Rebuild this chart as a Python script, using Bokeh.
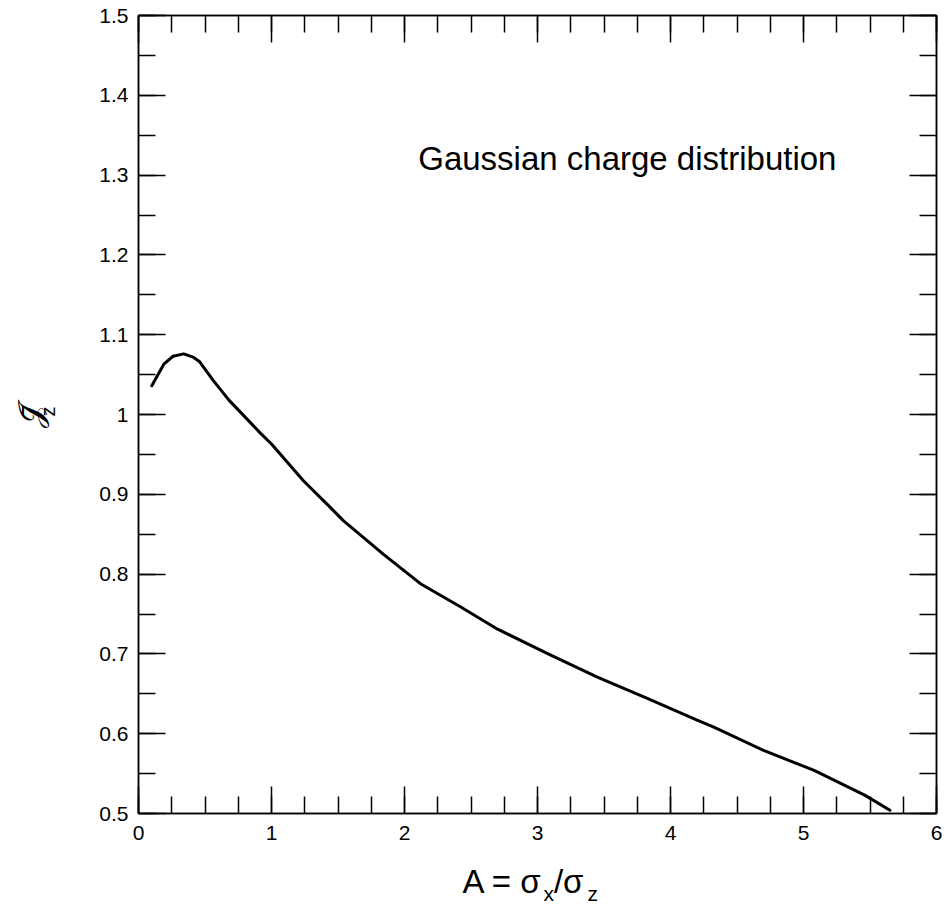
import math
from bokeh.plotting import figure
from bokeh.models import Range1d, FixedTicker, LinearAxis, Label, CustomJSTickFormatter
from bokeh.embed import file_html
from bokeh.resources import INLINE

# ---- data ----
a_vals = [0.10, 0.19, 0.26, 0.34, 0.41, 0.46, 0.56, 0.68, 0.92, 1.00, 1.24, 1.44, 1.54,
          1.84, 2.12, 2.42, 2.70, 3.08, 3.45, 3.83, 4.20, 4.33, 4.70, 5.08, 5.46, 5.65]
j_vals = [1.036, 1.063, 1.073, 1.076, 1.072, 1.066, 1.043, 1.018, 0.976, 0.963, 0.917, 0.884, 0.867,
          0.825, 0.788, 0.759, 0.731, 0.700, 0.671, 0.644, 0.617, 0.608, 0.579, 0.554, 0.523, 0.504]

x_major = [0, 1, 2, 3, 4, 5, 6]
x_minor = [i * 0.25 for i in range(25)]
y_major = [0.5, 0.6, 0.7, 0.8, 0.9, 1.0, 1.1, 1.2, 1.3, 1.4, 1.5]
y_minor = [round(0.5 + 0.05 * i, 2) for i in range(21)]

annotation = "Gaussian  charge  distribution"
x_label_main = "A = \u03c3\u2009\u2009/\u03c3"
x_label_subs = ["x", "z"]
y_label_main = "\U0001D4A5\u0304"
y_label_sub = "z"

FONT = "Liberation Sans"

# frame geometry in page pixels
F_LEFT, F_RIGHT, F_TOP, F_BOTTOM = 138, 936, 15, 813
W, H = 945, 905


def px2x(px):
    return (px - F_LEFT) / (F_RIGHT - F_LEFT) * 6


def py2y(py):
    return 0.5 + (F_BOTTOM - py) / (F_BOTTOM - F_TOP)


p = figure(width=W, height=H, x_range=Range1d(0, 6), y_range=Range1d(0.5, 1.5),
           output_backend="svg", toolbar_location=None,
           x_axis_location=None, y_axis_location=None,
           min_border_left=F_LEFT, min_border_right=W - F_RIGHT,
           min_border_top=F_TOP, min_border_bottom=H - F_BOTTOM)
p.grid.visible = False
p.outline_line_color = "black"
p.outline_line_width = 1.5
p.background_fill_color = "white"
p.border_fill_color = "white"

fmt = CustomJSTickFormatter(code="return String(Math.round(tick*10)/10);")
blank_fmt = CustomJSTickFormatter(code="return '';")


def make_axis(kind, labels):
    ax = LinearAxis()
    if kind == "x":
        ax.ticker = FixedTicker(ticks=x_major, minor_ticks=x_minor)
    else:
        ax.ticker = FixedTicker(ticks=y_major, minor_ticks=y_minor)
    ax.major_tick_in = 27
    ax.major_tick_out = 0
    ax.minor_tick_in = 17
    ax.minor_tick_out = 0
    ax.major_tick_line_width = 1.5
    ax.minor_tick_line_width = 1.5
    ax.major_tick_line_color = "black"
    ax.minor_tick_line_color = "black"
    ax.axis_line_color = "black"
    ax.axis_line_width = 1.5
    if labels:
        ax.formatter = fmt
        ax.major_label_text_font = FONT
        ax.major_label_text_font_size = "21px"
        ax.major_label_text_color = "black"
        ax.major_label_standoff = 12 if kind == "x" else 10
    else:
        ax.formatter = blank_fmt
        ax.major_label_text_font_size = "1px"
        ax.major_label_text_color = None
        ax.major_label_standoff = 0
    return ax


p.add_layout(make_axis("x", True), "below")
p.add_layout(make_axis("x", False), "above")
p.add_layout(make_axis("y", True), "left")
p.add_layout(make_axis("y", False), "right")

p.line(a_vals, j_vals, line_color="black", line_width=3, line_join="round", line_cap="round")

# annotation text
p.add_layout(Label(x=px2x(636), y=py2y(158), text=annotation, text_align="center",
                   text_baseline="alphabetic", text_font=FONT, text_font_size="33px",
                   text_color="black"))

# x-axis label: A = sigma_x / sigma_z  (main part in bottom panel, subscripts in left panel)
p.add_layout(Label(x=px2x(462), y=py2y(881), text=x_label_main, text_align="left",
                   text_baseline="middle", text_font=FONT, text_font_size="33px",
                   text_color="black"), "below")
for t, xp in zip(x_label_subs, [543, 587]):
    p.add_layout(Label(x=px2x(xp), y=py2y(893), text=t, text_align="left",
                       text_baseline="middle", text_font=FONT, text_font_size="21px",
                       text_color="black"), "left")

# y-axis label: script J with bar, subscript z (rotated)
p.add_layout(Label(x=px2x(29), y=py2y(416), text=y_label_main, angle=math.pi / 2,
                   text_align="center", text_baseline="middle", text_font="DejaVu Sans",
                   text_font_size="34px", text_color="black"), "left")
p.add_layout(Label(x=px2x(47), y=py2y(411), text=y_label_sub, angle=math.pi / 2,
                   text_align="center", text_baseline="middle", text_font=FONT,
                   text_font_size="20px", text_color="black"), "left")

open("out.html", "w").write(file_html(p, INLINE))
